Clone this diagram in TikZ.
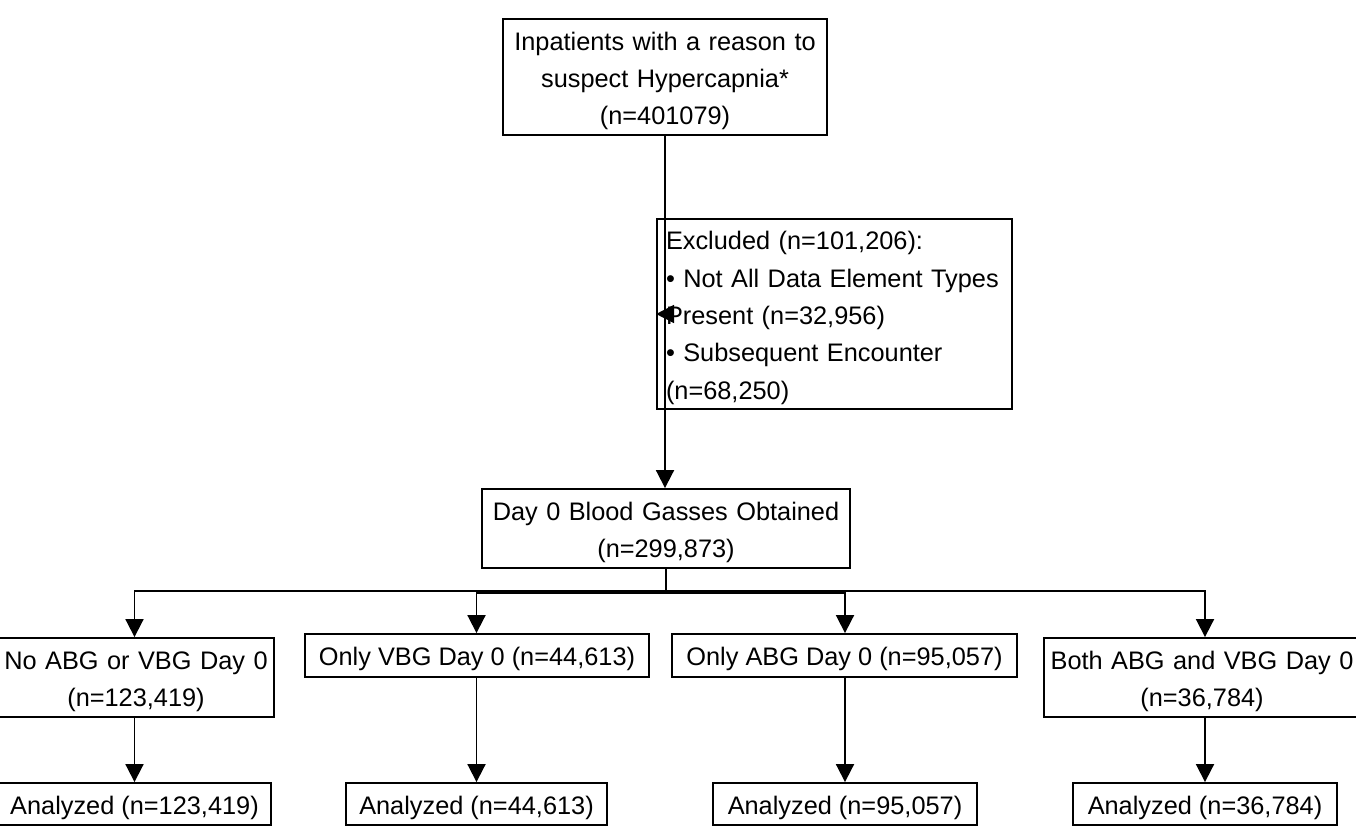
\documentclass[tikz,border=0pt]{standalone}
\usepackage{fontspec}
\setmainfont{Liberation Sans}
\usetikzlibrary{arrows.meta}

\newdimen\pxu
\pxu=0.75pt
\newcommand\boxstrut{\rule{0pt}{19.5pt}}

\tikzset{
	flowbox/.style={draw, line width=1.4pt, inner sep=0pt, align=center,
		font=\fontsize{19}{28}\selectfont, execute at begin node=\boxstrut},
	flowarrow/.style={line width=1.4pt, -{Triangle[length=13.5pt, width=13.5pt]}},
	flowline/.style={line width=1.4pt}
}

\begin{document}
\begin{tikzpicture}[x=0.75pt, y=-0.75pt]
	\useasboundingbox (0, 0) rectangle (1356, 838);

	\node[flowbox, minimum width=324\pxu, minimum height=116\pxu, text width=324\pxu] (inpat) at (665, 77) {Inpatients with a reason to\\suspect Hypercapnia*\\(n=401079)};
	\node[flowbox, minimum width=355\pxu, minimum height=190\pxu, text width=337\pxu, align=left] (excl) at (834.5, 314) {Excluded (n=101,206):\\• Not All Data Element Types\\Present (n=32,956)\\• Subsequent Encounter\\(n=68,250)};
	\node[flowbox, minimum width=368\pxu, minimum height=79\pxu, text width=368\pxu] (day0) at (666, 528.5) {Day 0 Blood Gasses Obtained\\(n=299,873)};

	\node[flowbox, minimum width=276\pxu, minimum height=79\pxu, text width=276\pxu] (none) at (136, 677.5) {No ABG or VBG Day 0\\(n=123,419)};
	\node[flowbox, minimum width=344\pxu, minimum height=43\pxu] (vbg) at (477, 655.5) {Only VBG Day 0 (n=44,613)};
	\node[flowbox, minimum width=345\pxu, minimum height=43\pxu] (abg) at (844.5, 655.5) {Only ABG Day 0 (n=95,057)};
	\node[flowbox, minimum width=316\pxu, minimum height=79\pxu, text width=316\pxu] (both) at (1202, 677.5) {Both ABG and VBG Day 0\\(n=36,784)};

	\node[flowbox, minimum width=273\pxu, minimum height=42\pxu] (annone) at (134.5, 804) {Analyzed (n=123,419)};
	\node[flowbox, minimum width=261\pxu, minimum height=42\pxu] (anvbg) at (476.5, 804) {Analyzed (n=44,613)};
	\node[flowbox, minimum width=264\pxu, minimum height=42\pxu] (anabg) at (845, 804) {Analyzed (n=95,057)};
	\node[flowbox, minimum width=264\pxu, minimum height=42\pxu] (anboth) at (1205, 804) {Analyzed (n=36,784)};

	\coordinate (split) at (666, 591);
	\coordinate (splitin) at (666, 593);

	\draw[flowarrow] (inpat.south) -- (inpat.south |- day0.north);
	\draw[flowarrow] (inpat.south |- excl.west) -- (excl.west);

	\draw[flowline] (day0.south) -- (splitin);
	\draw[flowarrow] (split) -| (annone.north |- none.north);
	\draw[flowarrow] (split) -| (anboth.north |- both.north);
	\draw[flowarrow] (splitin) -| (anvbg.north |- vbg.north);
	\draw[flowarrow] (splitin) -| (anabg.north |- abg.north);

	\draw[flowarrow] (annone.north |- none.south) -- (annone.north);
	\draw[flowarrow] (anvbg.north |- vbg.south) -- (anvbg.north);
	\draw[flowarrow] (anabg.north |- abg.south) -- (anabg.north);
	\draw[flowarrow] (anboth.north |- both.south) -- (anboth.north);

\end{tikzpicture}
\end{document}
